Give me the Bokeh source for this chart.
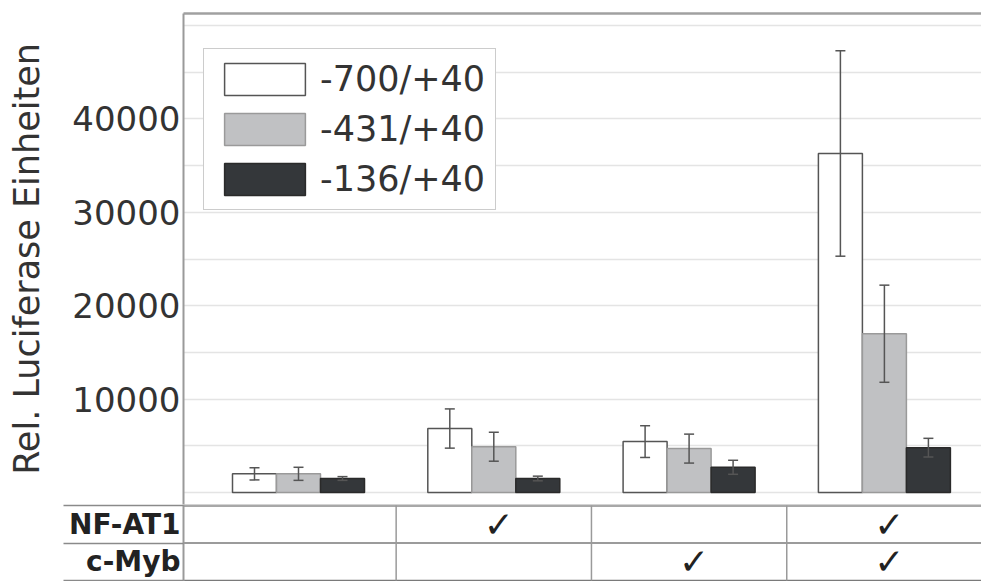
from bokeh.plotting import figure
from bokeh.models import (ColumnDataSource, Range1d, FixedTicker, LinearAxis,
                          Whisker, TeeHead, Legend, LegendItem)
from bokeh.layouts import column
from bokeh.core.properties import value
from bokeh.embed import file_html
from bokeh.resources import INLINE

# ---------------- data ----------------
groups = [0, 1, 2, 3]
conditions = ["Kontrolle", "NF-AT1", "c-Myb", "NF-AT1 + c-Myb"]
series_names = ["-700/+40", "-431/+40", "-136/+40"]
vals_700 = [2000, 6850, 5450, 36300]
err_700 = [650, 2100, 1700, 11000]
vals_431 = [2000, 4900, 4700, 17000]
err_431 = [700, 1550, 1550, 5200]
vals_136 = [1500, 1500, 2700, 4800]
err_136 = [200, 250, 750, 1000]
y_ticks = [10000, 20000, 30000, 40000]
grid_ticks = [0, 5000, 10000, 15000, 20000, 25000, 30000, 35000, 40000, 45000, 50000]
y_label = "Rel. Luciferase Einheiten"
table_rows = ["NF-AT1", "c-Myb"]
nfat1 = [False, True, False, True]
cmyb = [False, False, True, True]
row_flags = [nfat1, cmyb]

# ---------------- layout constants ----------------
W, H = 981, 581
PX_UNIT = 195.3          # pixels per group
X0_PX = 298              # pixel of group 0
A_LEFT, A_RIGHT, A_TOP, A_BOTTOM = 183, 981, 13, 504
Y0_PX = 492
PX_PER_Y = 46.7 / 5000
B_LEFT = 63
BAR_W = 44 / PX_UNIT
FONT = "DejaVu Sans"
TXT = "#333333"

xa = Range1d((A_LEFT - X0_PX) / PX_UNIT, (A_RIGHT - X0_PX) / PX_UNIT)
ya = Range1d(-(A_BOTTOM - Y0_PX) / PX_PER_Y, (Y0_PX - A_TOP) / PX_PER_Y)

p = figure(width=W, height=A_BOTTOM, x_range=xa, y_range=ya,
           output_backend="svg", toolbar_location=None,
           x_axis_location=None, min_border_left=A_LEFT,
           min_border_right=W - A_RIGHT, min_border_top=A_TOP,
           min_border_bottom=0, outline_line_color=None)
p.background_fill_color = "white"
p.border_fill_color = "white"

p.xgrid.visible = False
p.ygrid.ticker = FixedTicker(ticks=grid_ticks)
p.ygrid.grid_line_color = "#e4e4e4"
p.ygrid.grid_line_width = 1.5

yax = p.yaxis[0]
yax.ticker = FixedTicker(ticks=y_ticks)
yax.major_tick_out = 0
yax.major_tick_in = 0
yax.minor_tick_out = 0
yax.minor_tick_in = 0
yax.axis_line_color = "#9a9a9a"
yax.axis_line_width = 2
yax.major_label_text_font = FONT
yax.major_label_text_font_size = "34px"
yax.major_label_text_color = TXT
yax.major_label_standoff = 3
yax.axis_label = y_label
yax.axis_label_text_font = FONT
yax.axis_label_text_font_size = "35px"
yax.axis_label_text_font_style = "normal"
yax.axis_label_text_color = TXT
yax.axis_label_standoff = 22

top_ax = LinearAxis(ticker=FixedTicker(ticks=[]), axis_line_color="#a0a0a0",
                    axis_line_width=2.5, major_tick_out=0, major_tick_in=0,
                    minor_tick_out=0, minor_tick_in=0, major_label_standoff=0)
p.add_layout(top_ax, "above")

series = [
    (vals_700, err_700, "#ffffff", "#555555", -1),
    (vals_431, err_431, "#c0c1c3", "#9a9a9a", 0),
    (vals_136, err_136, "#34373a", "#2a2a2a", 1),
]
items = []
for name, (vals, errs, fill, line, k) in zip(series_names, series):
    src = ColumnDataSource(dict(
        x=[g + k * BAR_W for g in groups],
        top=vals,
        upper=[v + e for v, e in zip(vals, errs)],
        lower=[v - e for v, e in zip(vals, errs)],
    ))
    r = p.vbar(x="x", top="top", bottom=0, width=BAR_W, source=src,
               fill_color=fill, line_color=line, line_width=1.5)
    wk = Whisker(source=src, base="x", upper="upper", lower="lower",
                 line_color="#555555", line_width=1.5, level="overlay",
                 upper_head=TeeHead(size=10, line_color="#555555", line_width=1.5),
                 lower_head=TeeHead(size=10, line_color="#555555", line_width=1.5))
    p.add_layout(wk)
    items.append(LegendItem(label=name, renderers=[r]))

legend = Legend(items=items, location=(20, 294))
legend.glyph_width = 101
legend.glyph_height = 40
legend.label_height = 40
legend.label_standoff = 5
legend.spacing = 10
legend.padding = 10
legend.label_text_font = FONT
legend.label_text_font_size = "35px"
legend.label_text_color = TXT
legend.border_line_color = "#9a9a9a"
legend.border_line_width = 1.5
legend.background_fill_color = "white"
legend.background_fill_alpha = 1.0
p.add_layout(legend, "center")

# ---------------- table ----------------
n_rows = len(table_rows)
B_H = H - A_BOTTOM
row_px = (B_H - 2) / n_rows
yb = Range1d(n_rows + 1 / row_px, -1 / row_px)

t = figure(width=W, height=B_H, x_range=xa, y_range=yb,
           output_backend="svg", toolbar_location=None,
           x_axis_location=None,
           min_border_left=A_LEFT, min_border_right=W - A_RIGHT, min_border_top=0,
           min_border_bottom=0, outline_line_color=None)
t.xgrid.visible = False
t.ygrid.visible = False
t.background_fill_color = "white"
t.border_fill_color = "white"

# left axis of the table: row labels, long minor ticks = row rules of label column
boundaries = list(range(n_rows + 1))
centers = [i + 0.5 for i in range(n_rows)]
rule_len = A_LEFT - B_LEFT
tax = t.yaxis[0]
tax.ticker = FixedTicker(ticks=centers, minor_ticks=boundaries)
tax.major_label_overrides = {c: lab for c, lab in zip(centers, table_rows)}
tax.major_tick_out = 0
tax.major_tick_in = 0
tax.minor_tick_in = 0
tax.minor_tick_out = rule_len
tax.minor_tick_line_color = "#8a8a8a"
tax.minor_tick_line_width = 1.5
tax.axis_line_color = "#9a9a9a"
tax.axis_line_width = 2
tax.major_label_standoff = 3 - rule_len
tax.major_label_text_font = FONT
tax.major_label_text_font_style = "bold"
tax.major_label_text_font_size = "28px"
tax.major_label_text_color = "#222222"

t.segment(x0=[xa.start] * len(boundaries), x1=[xa.end] * len(boundaries),
          y0=boundaries, y1=boundaries,
          line_color=["#a8a8a8"] + ["#7a7a7a"] * n_rows,
          line_width=[3] + [1.5] * n_rows)
seps = [g + 0.5 for g in groups[:-1]]
t.segment(x0=seps, x1=seps, y0=[0] * len(seps), y1=[n_rows] * len(seps),
          line_color="#9a9a9a", line_width=1.5)

cx, cy = [], []
for i, flags in enumerate(row_flags):
    for g, f in zip(groups, flags):
        if f:
            cx.append(g)
            cy.append(i + 0.5)
t.text(x=cx, y=cy, text=["\u2713"] * len(cx), x_offset=5,
       text_font=value(FONT), text_font_size="36px", text_color="#222222",
       text_align="center", text_baseline="middle")

layout = column(p, t, spacing=0)
open("out.html", "w").write(file_html(layout, INLINE))
